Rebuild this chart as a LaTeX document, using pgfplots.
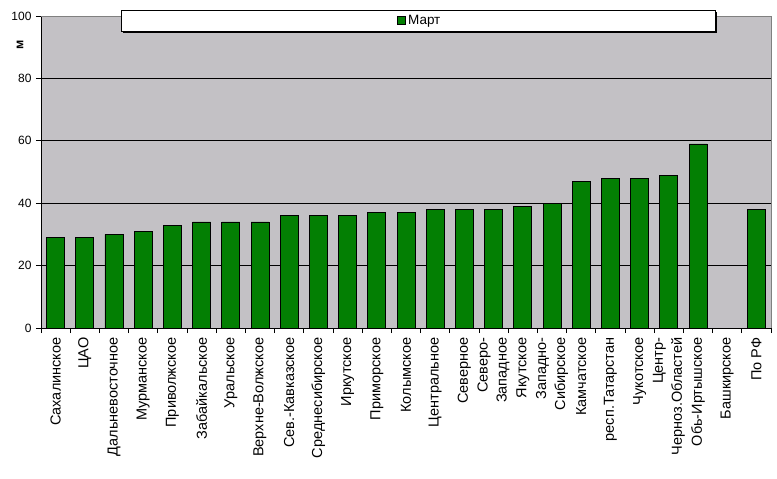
\documentclass[border=0pt]{standalone}
\usepackage{fontspec}
\setmainfont{Liberation Sans}
\usepackage{pgfplots}
\pgfplotsset{compat=1.18}
\definecolor{plotgray}{HTML}{C3C1C5}
\definecolor{bargreen}{HTML}{037F03}
\begin{document}
\begin{tikzpicture}[x=1pt,y=1pt]
\useasboundingbox (-41,-151) rectangle (736,328);
\begin{axis}[
  at={(0,0)}, anchor=south west,
  scale only axis, width=730pt, height=312pt,
  xmin=-0.5, xmax=24.5, ymin=0, ymax=100,
  clip=false,
  axis lines*=left,
  axis line style={black, line width=0.8pt},
  axis background/.style={fill=plotgray},
  ytick={0,20,...,100},
  ymajorgrids, grid style={black, line width=0.8pt},
  xtick={0,...,24},
  major x tick style={draw=none},
  minor xtick={-0.5,0.5,...,24.5},
  minor x tick style={black, line width=0.8pt},
  tick align=outside,
  major tick length=5pt, minor tick length=5pt,
  ytick style={black, line width=0.8pt},
  /pgf/number format/assume math mode=true,
  yticklabel style={font=\fontsize{12}{12}\selectfont, xshift=-1pt},
  xticklabels={Сахалинское, ЦАО, Дальневосточное, Мурманское, Приволжское, Забайкальское, Уральское, Верхне-Волжское, Сев.-Кавказское, Среднесибирское, Иркутское, Приморское, Колымское, Центральное, Северное, {Северо-\\Западное}, Якутское, {Западно-\\Сибирское}, Камчатское, респ.Татарстан, Чукотское, {Центр-\\Черноз.Областей}, Обь-Иртышское, Башкирское, По РФ},
  xticklabel style={rotate=90, anchor=east, align=right, font=\fontsize{14.5}{19}\selectfont, xshift=-1pt},
  ylabel={\bfseries м},
  every axis y label/.style={at={(rel axis cs:-0.0288,0.9071)}, anchor=center, rotate=90, font=\fontsize{12.5}{12.5}\selectfont},
  ybar, bar width=18pt,
  legend style={at={(0.519,0.9856)}, anchor=center, draw=none, fill=none, font=\fontsize{13.5}{13.5}\selectfont, legend cell align=left},
  legend image code/.code={\draw[fill=bargreen, draw=black, line width=0.8pt] (0pt,-4pt) rectangle (8pt,4pt);},
]
\draw[gray, line width=0.8pt] (axis cs:-0.5,100) -- (axis cs:24.5,100) -- (axis cs:24.5,0);
\fill[black] (axis cs:2.308,101.28) rectangle (axis cs:22.65,94.55);
\draw[black, fill=white, line width=0.8pt] (axis cs:2.24,101.92) rectangle (axis cs:22.58,95.19);
\addplot[fill=bargreen, draw=black, line width=0.8pt] coordinates {
(0,29) (1,29) (2,30) (3,31) (4,33) (5,34) (6,34) (7,34) (8,36) (9,36)
(10,36) (11,37) (12,37) (13,38) (14,38) (15,38) (16,39) (17,40) (18,47) (19,48)
(20,48) (21,49) (22,59) (24,38)};
\addlegendentry{Март}
\end{axis}
\end{tikzpicture}
\end{document}
